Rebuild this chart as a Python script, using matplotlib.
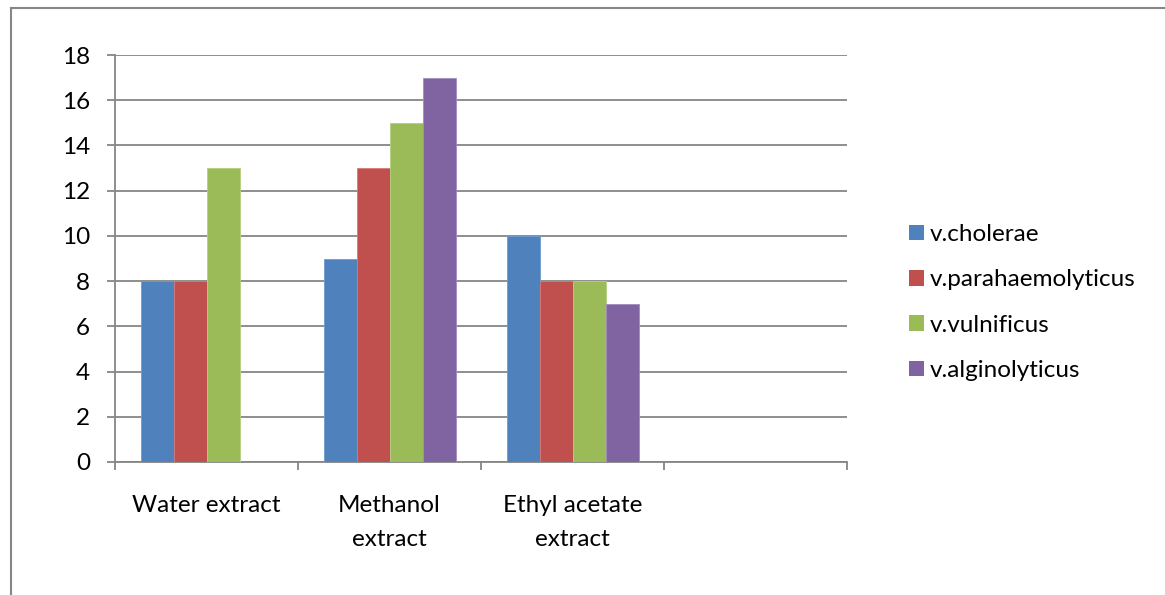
import matplotlib
matplotlib.use("Agg")
import matplotlib.pyplot as plt
from matplotlib.lines import Line2D
from matplotlib.patches import Patch
import numpy as np

plt.rcParams['font.family'] = ['Lato', 'DejaVu Sans']

categories = ["Water extract", "Methanol\nextract", "Ethyl acetate\nextract", ""]
series_names = ["v.cholerae", "v.parahaemolyticus", "v.vulnificus", "v.alginolyticus"]
cholerae = [8, 9, 10, None]
parahaemolyticus = [8, 13, 8, None]
vulnificus = [13, 15, 8, None]
alginolyticus = [None, 17, 7, None]
colors = ["#4F81BD", "#C0504D", "#9BBB59", "#8064A2"]
edge_colors = ["#6F9BD0", "#D77A77", "#B5D083", "#A08CC0"]
yticks = [0, 2, 4, 6, 8, 10, 12, 14, 16, 18]

FS = 17.5
W, H = 1165, 595
fig = plt.figure(figsize=(W / 100, H / 100), dpi=100)
ax = fig.add_axes([115 / W, 1 - 462 / H, (847 - 115) / W, (462 - 55) / H])

grid_c = "#868686"
n_cat = len(categories)
x = np.arange(n_cat)
bw = 33 / 183
all_series = [cholerae, parahaemolyticus, vulnificus, alginolyticus]
for i, vals in enumerate(all_series):
    xs = [xi + (i - 1.5) * bw for xi, v in zip(x, vals) if v is not None]
    vs = [v for v in vals if v is not None]
    ax.bar(xs, vs, width=bw, color=colors[i], edgecolor=edge_colors[i],
           linewidth=0.6, zorder=3)

ax.set_xlim(-0.5, n_cat - 0.5)
ax.set_ylim(0, 18)
ax.set_yticks(yticks)
ax.set_yticklabels([str(t) for t in yticks], fontsize=FS)
ax.yaxis.grid(True, color=grid_c, linewidth=1.3, zorder=0)
ax.set_axisbelow(True)

ax.set_xticks(np.arange(n_cat + 1) - 0.5)
ax.set_xticklabels([])
ax.set_xticks(x, minor=True)
ax.set_xticklabels(categories, minor=True, fontsize=FS, linespacing=1.72)
ax.tick_params(axis='x', which='minor', length=0, pad=24)
ax.tick_params(axis='x', which='major', length=6, width=1.3, color=grid_c, direction='out')
ax.tick_params(axis='y', length=6, width=1.3, color=grid_c, direction='out', pad=12)

for s in ["top", "right"]:
    ax.spines[s].set_visible(False)
for s in ["left", "bottom"]:
    ax.spines[s].set_color(grid_c)
    ax.spines[s].set_linewidth(1.3)

handles = [Patch(facecolor=c, edgecolor='none') for c in colors]
leg = fig.legend(handles, series_names, loc='upper left',
                 bbox_to_anchor=(897 / W, 1 - 212 / H), frameon=False,
                 fontsize=FS, handlelength=0.6, handleheight=0.6,
                 handletextpad=0.25, labelspacing=1.0, borderpad=0)

# outer chart frame (top and left edges)
fig.add_artist(Line2D([11 / W, 1], [1 - 8 / H, 1 - 8 / H], color=grid_c,
                      linewidth=1.5, transform=fig.transFigure))
fig.add_artist(Line2D([11 / W, 11 / W], [0, 1 - 8 / H], color=grid_c,
                      linewidth=1.5, transform=fig.transFigure))

fig.savefig("out.png", dpi=100, facecolor="white")
